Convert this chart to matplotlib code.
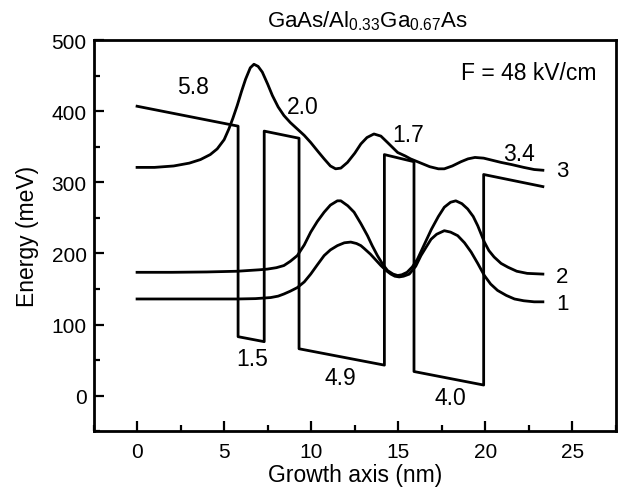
import numpy as np
import matplotlib
matplotlib.use('Agg')
import matplotlib.pyplot as plt
from matplotlib.ticker import MultipleLocator

# --- values ---
# conduction band profile (nm, meV)
band_x = [0, 5.8, 5.8, 7.3, 7.3, 9.3, 9.3, 14.2, 14.2, 15.9, 15.9, 19.9, 19.9, 23.3]
band_e = [407, 379, 83, 76, 372, 362, 66, 43, 339, 329, 34, 15, 311, 294]

# layer widths (nm), shown as labels
layer_labels = ['5.8', '1.5', '2.0', '4.9', '1.7', '4.0', '3.4']

# wavefunctions, offset by their level energy
psi1_x = [0, 3, 5.75, 6.8, 7.67, 8.1, 8.43, 8.8, 9.2, 9.6, 9.97, 10.35, 10.74, 11.1,
          11.5, 11.9, 12.27, 12.6, 12.85, 13.04, 13.4, 13.7, 14.0, 14.3, 14.57, 14.8,
          15.05, 15.3, 15.63, 16.0, 16.3, 16.6, 16.88, 17.2, 17.64, 18.0, 18.41, 18.8,
          19.18, 19.56, 19.94, 20.3, 20.7, 21.2, 21.67, 22.2, 22.8, 23.3]
psi1_e = [136, 136, 136, 136.5, 138, 140, 143, 147, 152, 160, 171, 184, 197, 205,
          211, 215, 216, 214, 211, 207, 199, 191, 183, 176, 171, 168,
          167, 168, 171, 182, 197, 209, 220, 227, 232, 230, 225, 215,
          202, 186, 169, 157, 148, 141, 136, 133.5, 132, 132]

psi2_x = [0, 2, 4, 5.75, 7, 7.48, 8, 8.43, 8.8, 9.2, 9.6, 9.97, 10.35, 10.74, 11.1,
          11.5, 11.7, 12.1, 12.46, 12.85, 13.23, 13.5, 13.8, 14.1, 14.38, 14.7, 14.96,
          15.2, 15.5, 15.8, 16.1, 16.5, 16.9, 17.3, 17.64, 18.0, 18.3, 18.65, 18.98,
          19.3, 19.56, 19.94, 20.2, 20.5, 20.9, 21.3, 21.8, 22.4, 23.3]
psi2_e = [173.5, 173.5, 174, 175, 177, 178, 180, 183, 189, 197, 212, 230, 245, 258, 268,
          274, 274, 267, 258, 242, 225, 211, 197, 185, 176, 171, 169,
          170, 173.5, 181, 192, 213, 234, 252, 265, 272, 274, 270, 262.6,
          252, 239, 216, 204, 195, 186, 180.6, 175, 172, 171]

psi3_x = [0, 1, 2.1, 3, 3.64, 4.2, 4.6, 5.0, 5.27, 5.5, 5.75, 6.0, 6.23, 6.5, 6.71,
          6.95, 7.19, 7.5, 7.77, 8.1, 8.43, 8.8, 9.2, 9.6, 9.97, 10.4, 10.74, 11.1,
          11.4, 11.7, 12.08, 12.5, 12.85, 13.2, 13.6, 14.0, 14.38, 14.96, 15.4, 15.7,
          16.3, 16.8, 17.3, 17.64, 18.1, 18.6, 19.0, 19.4, 19.9, 20.4, 20.9, 21.5,
          22.2, 22.8, 23.3]
psi3_e = [321, 321, 323, 327, 332, 339, 347, 360, 375, 390, 408, 428, 445, 461, 466,
          463, 455, 438, 422, 406, 394, 384, 375, 366, 356, 343, 333, 323,
          319, 320, 328, 341, 354, 363, 368, 365, 356, 342, 337, 333,
          327, 322, 319, 319, 323, 329, 333, 335, 334, 331, 328, 325,
          321, 318, 317]

state_labels = ['1', '2', '3']

# --- plot ---
plt.rcParams['font.family'] = ['Liberation Sans', 'DejaVu Sans']
plt.rcParams['mathtext.fontset'] = 'custom'
plt.rcParams['mathtext.rm'] = 'Liberation Sans'

fig = plt.figure(figsize=(6.21, 4.89), dpi=100)
ax = fig.add_axes([0.1506, 0.116, 0.8414, 0.8])

lw = 2.0
ax.plot(band_x, band_e, color='black', lw=lw)
ax.plot(psi1_x, psi1_e, color='black', lw=lw)
ax.plot(psi2_x, psi2_e, color='black', lw=lw)
ax.plot(psi3_x, psi3_e, color='black', lw=lw)

fs = 15      # tick labels
fa = 16.5    # annotations and axis labels
# layer width labels
ax.text(3.2, 435, layer_labels[0], fontsize=fa, ha='center', va='center')
ax.text(6.6, 53, layer_labels[1], fontsize=fa, ha='center', va='center')
ax.text(9.5, 406, layer_labels[2], fontsize=fa, ha='center', va='center')
ax.text(11.7, 26, layer_labels[3], fontsize=fa, ha='center', va='center')
ax.text(15.55, 367, layer_labels[4], fontsize=fa, ha='center', va='center')
ax.text(18.0, -2, layer_labels[5], fontsize=fa, ha='center', va='center')
ax.text(21.9, 341, layer_labels[6], fontsize=fa, ha='center', va='center')

# state labels
ax.text(24.4, 130, state_labels[0], fontsize=16, ha='center', va='center')
ax.text(24.4, 168, state_labels[1], fontsize=16, ha='center', va='center')
ax.text(24.4, 317, state_labels[2], fontsize=16, ha='center', va='center')

ax.text(26.4, 455, 'F = 48 kV/cm', fontsize=fa, ha='right', va='center')

fig.text(0.591, 0.957, r'GaAs/Al$_{\mathregular{0.33}}$Ga$_{\mathregular{0.67}}$As',
         fontsize=16, ha='center', va='center')

ax.set_xlim(-2.5, 27.5)
ax.set_ylim(-50, 500)
ax.xaxis.set_major_locator(MultipleLocator(5))
ax.xaxis.set_minor_locator(MultipleLocator(2.5))
ax.yaxis.set_major_locator(MultipleLocator(100))
ax.yaxis.set_minor_locator(MultipleLocator(50))
ax.tick_params(which='both', direction='in', width=1.6, top=False, right=False)
ax.tick_params(which='major', length=7, labelsize=fs)
ax.tick_params(axis='x', which='major', pad=8)
ax.tick_params(axis='y', which='major', pad=5)
ax.tick_params(which='minor', length=4)
for s in ax.spines.values():
    s.set_linewidth(2.0)

ax.set_xlabel('Growth axis (nm)', fontsize=fa, labelpad=1)
ax.set_ylabel('Energy (meV)', fontsize=fa, labelpad=9)

fig.savefig('out.png', dpi=100)
